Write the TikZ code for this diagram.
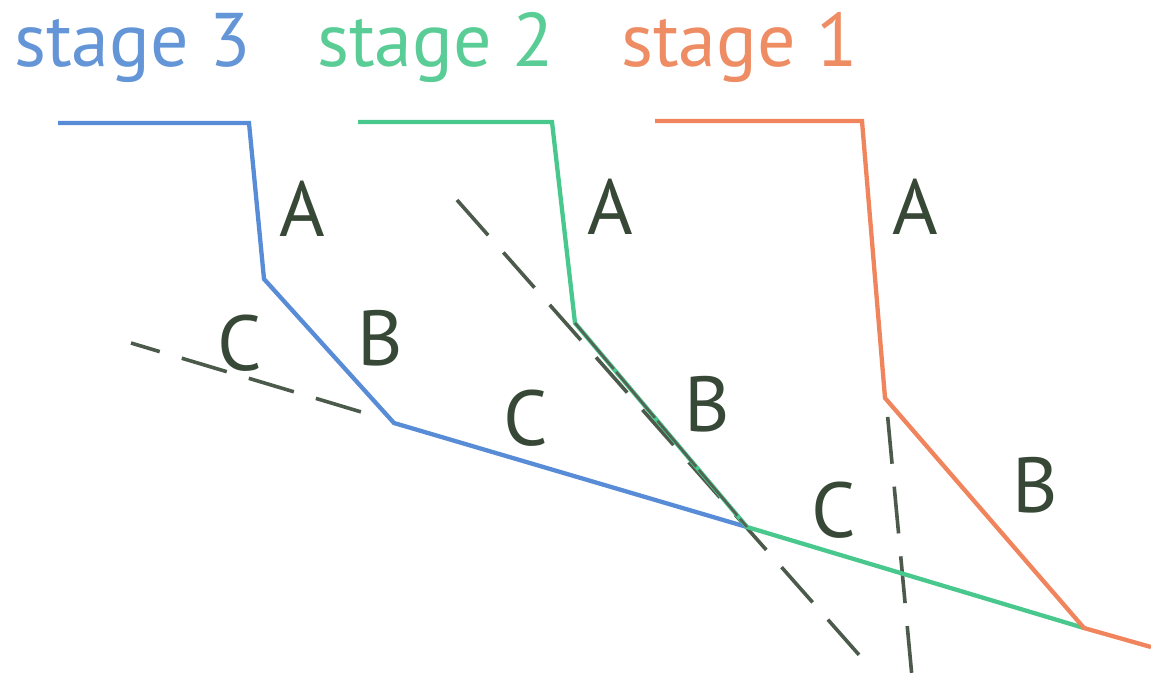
\documentclass[tikz,border=0pt]{standalone}
\usepackage{fontspec}
\setmainfont{PT Sans}
\definecolor{sblue}{RGB}{88,140,214}
\definecolor{sgreen}{RGB}{72,200,140}
\definecolor{sorange}{RGB}{240,132,92}
\definecolor{tblue}{RGB}{100,150,215}
\definecolor{tgreen}{RGB}{90,205,150}
\definecolor{torange}{RGB}{238,140,100}
\definecolor{lbl}{RGB}{55,72,55}
\begin{document}
\begin{tikzpicture}[x=1pt,y=-1pt,
  curve/.style={line width=4.3pt,line join=miter},
  guide/.style={line width=3.6pt,draw=lbl!90,dash pattern=on 47pt off 23pt},
  seg/.style={font=\fontsize{78}{80}\selectfont,text=lbl,inner sep=0pt},
  title/.style={font=\fontsize{76}{78}\selectfont,inner sep=0pt,anchor=base west}]
\useasboundingbox (0,0) rectangle (1151,681);
% titles
\node[title,text=tblue] (t3) at (14,66) {stage 3};
\node[title,text=tgreen] (t2) at (317,66) {stage 2};
\node[title,text=torange] (t1) at (621,66) {stage 1};
% key points
\coordinate (b0) at (58,123);
\coordinate (b1) at (249,123);
\coordinate (b2) at (264,279);
\coordinate (b3) at (394,423);
\coordinate (x1) at (747,527);
\coordinate (g0) at (358,122);
\coordinate (g1) at (552,122);
\coordinate (g2) at (575,323);
\coordinate (x2) at (1084,628);
\coordinate (o0) at (655,121);
\coordinate (o1) at (862,121);
\coordinate (o2) at (885,398);
\coordinate (o3) at (1151,647);
% dashed guides
\coordinate (d1a) at (131,343);
\coordinate (d1b) at (368,414);
\coordinate (d2a) at (457,200);
\coordinate (d2b) at (868,665);
\coordinate (d3a) at (886,399);
\coordinate (d3b) at (912,677);
\draw[guide,dash phase=17pt] (d1a) -- (d1b);
\draw[guide] (d2a) -- (d2b);
\draw[guide,dash phase=-18pt] (d3a) -- (d3b);
% curves
\draw[curve,sblue] (b0) -- (b1) -- (b2) -- (b3) -- (x1);
\draw[curve,sgreen] (g0) -- (g1) -- (g2) -- (x1) -- (x2);
\draw[curve,sorange] (o0) -- (o1) -- (o2) -- (x2) -- (o3);
\draw[line width=2.6pt,draw=lbl!85,dash pattern=on 60pt off 4pt] (g2) -- (x1);
% labels
\node[seg] (a3) at (302,209) {A};
\node[seg] (a2) at (610,207) {A};
\node[seg] (a1) at (915,207) {A};
\node[seg] (c3) at (240,343) {C};
\node[seg] (bb3) at (380,338) {B};
\node[seg] (c2) at (526,418) {C};
\node[seg] (bb2) at (707,404) {B};
\node[seg] (c1) at (834,510) {C};
\node[seg] (bb1) at (1035,485) {B};
\end{tikzpicture}
\end{document}
